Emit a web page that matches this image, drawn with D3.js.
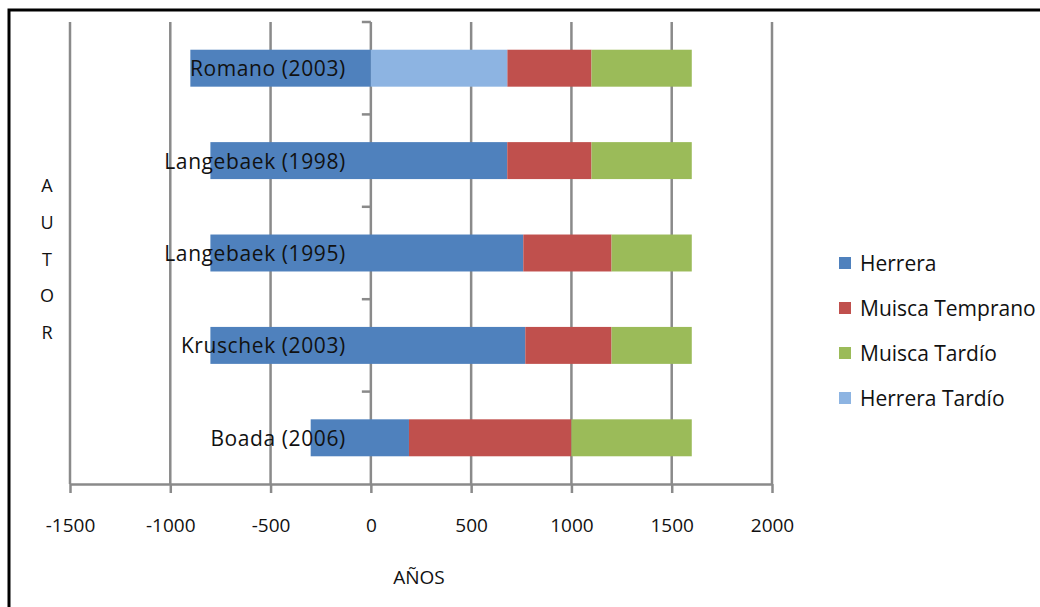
<!DOCTYPE html>
<html>
<head>
<meta charset="utf-8">
<script src="https://cdn.jsdelivr.net/npm/d3@7"></script>
<style>
  html, body { margin: 0; padding: 0; background: #fff; }
  svg { display: block; font-family: "Open Sans", "DejaVu Sans", sans-serif; }
</style>
</head>
<body>
<svg id="chart" width="1040" height="607"></svg>
<script>
// Authors (top to bottom) and the span of years each assigns to every period
const categories = ["Romano (2003)", "Langebaek (1998)", "Langebaek (1995)", "Kruschek (2003)", "Boada (2006)"];
const seriesNames = ["Herrera", "Muisca Temprano", "Muisca Tardío", "Herrera Tardío"];
const seriesColors = ["#4F81BD", "#C0504D", "#9BBB59", "#8DB4E2"];

const herrera        = [[-900, 0], [-800, 680], [-800, 760], [-800, 770], [-300, 190]];
const muiscaTemprano = [[680, 1100], [680, 1100], [760, 1200], [770, 1200], [190, 1000]];
const muiscaTardio   = [[1100, 1600], [1100, 1600], [1200, 1600], [1200, 1600], [1000, 1600]];
const herreraTardio  = [[0, 680], null, null, null, null];

const xTicks = [-1500, -1000, -500, 0, 500, 1000, 1500, 2000];
const yTitle = ["A", "U", "T", "O", "R"];
const xTitle = "AÑOS";

const seriesData = [herrera, muiscaTemprano, muiscaTardio, herreraTardio];

const svg = d3.select("#chart");
const gridColor = "#8a8a8a";
const textColor = "#111";

// frame around the chart
svg.append("rect")
  .attr("x", 9).attr("y", 10)
  .attr("width", 1100).attr("height", 700)
  .attr("fill", "#fff").attr("stroke", "#000").attr("stroke-width", 3);

const x = d3.scaleLinear().domain([-1500, 2000]).range([70, 772]);
const y = d3.scaleBand().domain(categories).range([22, 484]).paddingInner(0.6).paddingOuter(0.3);

// vertical gridlines
svg.append("g").selectAll("line").data(xTicks).join("line")
  .attr("x1", d => x(d)).attr("x2", d => x(d))
  .attr("y1", 22).attr("y2", 484)
  .attr("stroke", gridColor).attr("stroke-width", 2.5);

// horizontal value axis with ticks and labels
const xAxis = d3.axisBottom(x).tickValues(xTicks).tickSize(9).tickSizeOuter(0).tickPadding(26)
  .tickFormat(d3.format("d"));
const gx = svg.append("g").attr("transform", "translate(0,484)").call(xAxis);
gx.select(".domain").attr("stroke", gridColor).attr("stroke-width", 2.5);
gx.selectAll(".tick line").attr("stroke", gridColor).attr("stroke-width", 2.5);
gx.selectAll(".tick text")
  .attr("fill", textColor).attr("font-size", 19)
  .attr("font-family", "'Open Sans', sans-serif")
  .text(d => d < 0 ? "-" + Math.abs(d) : d);

// category axis at year 0: small tick marks between categories
const boundaries = d3.range(categories.length).map(i => 22 + i * y.step());
svg.append("g").selectAll("line").data(boundaries).join("line")
  .attr("x1", x(0) - 9).attr("x2", x(0))
  .attr("y1", d => d).attr("y2", d => d)
  .attr("stroke", gridColor).attr("stroke-width", 2.5);

// stacked period bars
const bars = svg.append("g");
seriesData.forEach((data, si) => {
  bars.selectAll(null).data(data.map((d, i) => ({ span: d, cat: categories[i] })).filter(d => d.span))
    .join("rect")
    .attr("x", d => x(d.span[0]))
    .attr("width", d => x(d.span[1]) - x(d.span[0]))
    .attr("y", d => y(d.cat))
    .attr("height", y.bandwidth())
    .attr("fill", seriesColors[si]);
});

// author labels next to the year-0 axis
svg.append("g").selectAll("text").data(categories).join("text")
  .attr("x", x(0) - 25)
  .attr("y", d => y(d) + y.bandwidth() / 2)
  .attr("text-anchor", "end")
  .attr("dominant-baseline", "central")
  .attr("font-size", 21)
  .attr("letter-spacing", 0.6)
  .attr("fill", textColor)
  .text(d => d);

// vertical axis title, one letter per line
svg.append("g").selectAll("text").data(yTitle).join("text")
  .attr("x", 47)
  .attr("y", (d, i) => 185 + i * 36.8)
  .attr("text-anchor", "middle")
  .attr("dominant-baseline", "central")
  .attr("font-size", 18)
  .attr("fill", textColor)
  .text(d => d);

// horizontal axis title
svg.append("text")
  .attr("x", (x(-1500) + x(2000)) / 2 - 2)
  .attr("y", 577)
  .attr("text-anchor", "middle")
  .attr("dominant-baseline", "central")
  .attr("font-size", 19)
  .attr("fill", textColor)
  .text(xTitle);

// legend
const legend = svg.append("g").selectAll("g").data(seriesNames).join("g")
  .attr("transform", (d, i) => `translate(839,${263 + i * 45})`);
legend.append("rect")
  .attr("x", 0).attr("y", -6).attr("width", 12).attr("height", 12)
  .attr("fill", (d, i) => seriesColors[i]);
legend.append("text")
  .attr("x", 21).attr("y", 0)
  .attr("dominant-baseline", "central")
  .attr("font-size", 21)
  .attr("fill", textColor)
  .text(d => d);
</script>
</body>
</html>
